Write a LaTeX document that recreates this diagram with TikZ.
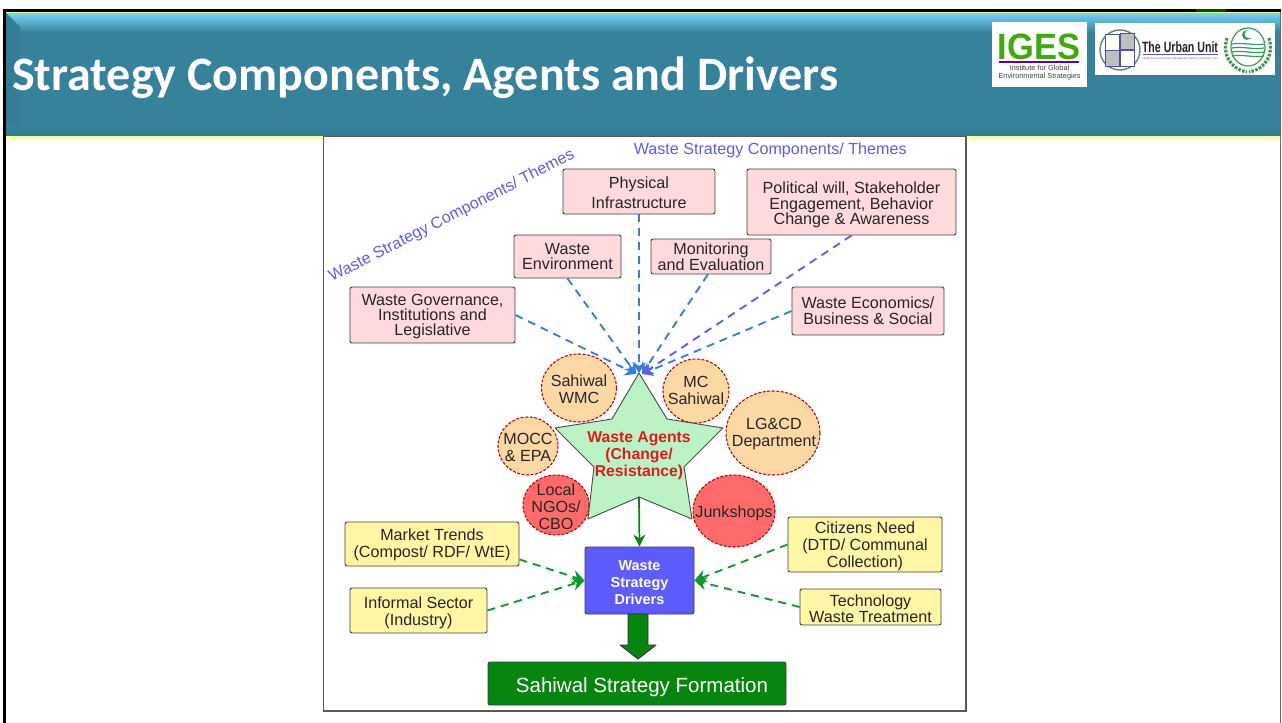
\documentclass[tikz,border=0pt]{standalone}
\usepackage{fontspec}
\setmainfont{Liberation Sans}
\newfontfamily\titlefont{Carlito}
\usetikzlibrary{arrows.meta,calc}
\definecolor{pinkbox}{HTML}{FFDADD}
\definecolor{yellowbox}{HTML}{FFF6A6}
\definecolor{orangeag}{HTML}{FCD9A4}
\definecolor{redag}{HTML}{FF6B6B}
\definecolor{stargreen}{HTML}{BBF3C6}
\definecolor{drvblue}{HTML}{5F5CFF}
\definecolor{formgreen}{HTML}{06860F}
\definecolor{linkblue}{HTML}{2F7FE0}
\definecolor{linkpurple}{HTML}{5F5CE8}
\definecolor{linkgreen}{HTML}{0F9A30}
\definecolor{teal}{HTML}{36829B}
\definecolor{skytop}{HTML}{74D3F2}
\definecolor{themecol}{HTML}{5F5CE0}
\definecolor{igesgreen}{HTML}{3FA90F}
\definecolor{emblem}{HTML}{3C9A50}
\definecolor{starred}{HTML}{DD1C1C}
\tikzset{
  x=0.75pt,y=-0.75pt,
  lbl/.style={font=\fontsize{12.1}{11.7}\selectfont,align=center,text=black!85},
  lblwide/.style={font=\fontsize{12.1}{12.9}\selectfont,align=center,text=black!85},
  boxp/.style={draw=black!75,line width=0.7pt,rounded corners=1.5pt,inner sep=0pt},
  pinkb/.style={boxp,lbl,fill=pinkbox},
  yellowb/.style={boxp,lblwide,fill=yellowbox},
  agent/.style={draw=red!75!black,dash pattern=on 2.2pt off 1.2pt,line width=0.8pt},
  themelink/.style={draw=linkblue,line width=1.4pt,dash pattern=on 6pt off 4.5pt,-{Stealth[length=8pt,width=10pt]}},
  purplelink/.style={themelink,draw=linkpurple},
  drvlink/.style={draw=linkgreen,line width=1.4pt,dash pattern=on 6pt off 4.5pt,-{Stealth[length=9pt,width=10pt]}},
  themetxt/.style={font=\fontsize{12.1}{13}\selectfont,text=themecol,inner sep=0pt},
}
\newcommand{\lift}[1]{\rule{0pt}{#1}}
\newcommand{\pxbox}[6]{% name, style, x0,y0,x1,y1, then the node text follows
  \node[#2,minimum width={(#5-#3)*0.75pt},minimum height={(#6-#4)*0.75pt},anchor=center] (#1) at ({(#3+#5)/2},{(#4+#6)/2})}
\newcommand{\agentnode}[6]{%
  \draw[agent,fill=#6] (#2,#3) ellipse [x radius=#4,y radius=#5];
  \coordinate (#1) at (#2,#3);}
\begin{document}
\begin{tikzpicture}
\useasboundingbox (0,0) rectangle (1282,723);
% slide frame and header
\fill[white] (0,0) rectangle (1282,723);
\fill[black] (3,9) rectangle (1281,12);
\fill[green!30!black] (1196,9) rectangle (1226,12);
\fill[black] (3,9) rectangle (6,723);
\fill[black!60] (1280,12) rectangle (1281,723);
\fill[teal] (6,12) rectangle (1280,137);
\shade[top color=skytop,bottom color=teal] (6,13) rectangle (1280,33);
\fill[teal!96!black] (6,13) -- (20,27) -- (20,124) -- (6,137) -- cycle;
\shade[top color=teal,bottom color=teal!92!black] (6,126) rectangle (1280,137);
\shade[top color=green!15!yellow!30!white,bottom color=white] (6,137) rectangle (1280,142);
\fill[green!20!yellow!50!white] (6,12) rectangle (1280,13);
\node[anchor=base west,inner sep=0pt,text=white,font=\titlefont\bfseries\fontsize{36}{38}\selectfont] (title) at (12,91) {Strategy Components, Agents and Drivers};
% IGES logo
\fill[white] (992,22) rectangle (1087,87);
\node[inner sep=0pt,font=\bfseries\fontsize{27.5}{28}\selectfont,text=igesgreen,anchor=base,xscale=0.94,transform shape] (iges) at (1039,59.5) {IGES};
\fill[violet!70!blue] (999,61) rectangle (1079,63);
\node[inner sep=0pt,font=\fontsize{5.5}{6.1}\selectfont,align=center,text=black!75,anchor=north] (igestxt) at (1039.5,65) {Institute for Global\\Environmental Strategies};
% Urban Unit logo
\fill[white] (1095,23) rectangle (1275,75);
\draw[emblem!50!gray,line width=1.1pt] (1120,50) circle [radius=20];
\foreach \cx/\cy/\cc in {1112/42/white,1127/41/black!25,1112/58/black!25,1127/58/white}{
  \draw[blue!40!gray,line width=0.5pt,fill=\cc] (\cx-7,\cy-8) rectangle (\cx+7,\cy+8);}
\node[inner sep=0pt,font=\bfseries\fontsize{11.2}{12}\selectfont,xscale=0.71,transform shape,text=black!85] (uu) at (1180,47.5) {The Urban Unit};
\fill[blue!30!gray] (1143,54.5) rectangle (1218,55.1);
\node[inner sep=0pt,font=\fontsize{2}{2.4}\selectfont,text=black!65] (uutag) at (1180,58.7) {Urban Sector Planning \& Management Services Unit (Pvt.) Ltd.};
\draw[emblem,line width=0.9pt] (1248,47) ellipse [x radius=17,y radius=19];
\foreach \yy in {44,48,52,56}{\draw[emblem,line width=0.9pt] (1232,\yy) .. controls (1242,{\yy-2}) and (1254,{\yy+2}) .. (1264,\yy);}
\fill[emblem] (1247,35) circle [radius=5];
\fill[white] (1249,34) circle [radius=4.2];
\draw[emblem,line width=2.4pt,dash pattern=on 2pt off 1pt] (1227,38) .. controls (1222,54) and (1230,69) .. (1247,72);
\draw[emblem,line width=2.4pt,dash pattern=on 2pt off 1pt] (1269,38) .. controls (1274,54) and (1266,69) .. (1249,72);
% diagram frame
\draw[black!65,line width=0.8pt,fill=white] (323.5,136.5) rectangle (966,711);
% theme captions
\node[themetxt,anchor=base west] (themetop) at (633.5,154.5) {Waste Strategy Components/ Themes};
\node[themetxt,anchor=base west,rotate=27] (themerot) at (332,282) {Waste Strategy Components/ Themes};
% component boxes
\pxbox{phys}{pinkb,font=\fontsize{12.1}{15}\selectfont}{563}{169}{715}{214}{\lift{10.3pt}Physical\\Infrastructure};
\pxbox{pol}{pinkb}{747}{169}{956}{235}{\lift{13.3pt}Political will, Stakeholder\\Engagement, Behavior\\Change \& Awareness};
\pxbox{env}{pinkb}{514}{235}{621}{278}{Waste\\Environment};
\pxbox{mon}{pinkb}{651}{239}{771}{274}{Monitoring\\and Evaluation};
\pxbox{gov}{pinkb,font=\fontsize{12.1}{11}\selectfont}{350}{287}{515}{343}{\lift{11pt}Waste Governance,\\Institutions and\\Legislative};
\pxbox{eco}{pinkb}{792}{287}{944}{335}{Waste Economics/\\Business \& Social};
% agents
\agentnode{wmc}{579}{388}{37.5}{34}{orangeag}
\agentnode{mc}{696}{391}{33}{32}{orangeag}
\agentnode{lg}{773}{433}{47}{42}{orangeag}
\agentnode{mocc}{528}{446}{30}{29}{orangeag}
\agentnode{ngo}{556}{505}{33}{30}{redag}
\agentnode{junk}{734}{511}{41}{36}{redag}
\node[lblwide,inner sep=0pt] (wmct) at (579,389) {Sahiwal\\WMC};
\node[lblwide,inner sep=0pt] (mct) at (696,390.5) {MC\\Sahiwal};
\node[lblwide,inner sep=0pt] (lgt) at (774,434) {LG\&CD\\Department};
\node[lblwide,inner sep=0pt] (mocct) at (528,447.5) {MOCC\\\& EPA};
\node[lblwide,inner sep=0pt] (ngot) at (556,506.5) {Local\\NGOs/\\CBO};
\node[lblwide,inner sep=0pt] (junkt) at (734,513) {Junkshops};
% star
\draw[fill=stargreen,draw=black!70,line width=0.7pt,line join=round]
  (639,373) -- (667,419) -- (723,428) -- (684,467) -- (692,519) -- (639,497) -- (588,519) -- (594,467) -- (555,428) -- (612,419) -- cycle;
\coordinate (startop) at (639,373);
\coordinate (starbot) at (639,497);
\node[font=\bfseries\fontsize{11.8}{12.9}\selectfont,text=starred,align=center,inner sep=0pt] (star) at (639,456) {Waste Agents\\(Change/\\Resistance)};
% drivers
\pxbox{drv}{boxp,fill=drvblue,font=\bfseries\fontsize{10.8}{12.6}\selectfont,text=white,align=center}{585}{547}{694}{614}{\lift{11pt}Waste\\Strategy\\Drivers};
\pxbox{mkt}{yellowb}{345}{522}{519}{566}{\lift{10.3pt}Market Trends\\(Compost/ RDF/ WtE)};
\pxbox{inf}{yellowb}{350}{588}{487}{633}{\lift{12.6pt}Informal Sector\\(Industry)};
\pxbox{cit}{yellowb}{788}{517}{942}{572}{\lift{11.8pt}Citizens Need\\(DTD/ Communal\\Collection)};
\pxbox{tec}{yellowb,font=\fontsize{12.1}{12}\selectfont}{800}{589}{941}{625}{\lift{11pt}Technology\\Waste Treatment};
\pxbox{form}{boxp,fill=formgreen,font=\fontsize{15.4}{17}\selectfont,text=white}{488}{662}{786}{705}{\lift{17.2pt}\hspace*{7.5pt}Sahiwal Strategy Formation};
% connectors
\coordinate (hubb) at (636,374);
\coordinate (hubc) at (642,374);
\draw[themelink] (gov.east) -- (hubb);
\draw[themelink] (env.south) -- (hubb);
\draw[themelink] (phys.south) -- (startop);
\draw[themelink] (mon.-100) -- (hubc);
\draw[themelink] (eco.west) -- (hubc);
\draw[purplelink] (pol.south) -- (hubc);
\draw[-{Stealth[length=9pt,width=9pt]},draw=formgreen,line width=1.3pt] (starbot) -- (drv.north);
\draw[drvlink] (mkt.-10) -- (drv.west);
\draw[drvlink] (inf.east) -- (drv.west);
\draw[drvlink] (cit.west) -- (drv.east);
\draw[drvlink] (tec.west) -- (drv.east);
% big arrow
\draw[fill=formgreen,draw=black!80,line width=0.7pt,line join=round]
 (628,614) -- (648,614) -- (648,645) -- (656,645) -- (638,659) -- (620,645) -- (628,645) -- cycle;
\end{tikzpicture}
\end{document}
